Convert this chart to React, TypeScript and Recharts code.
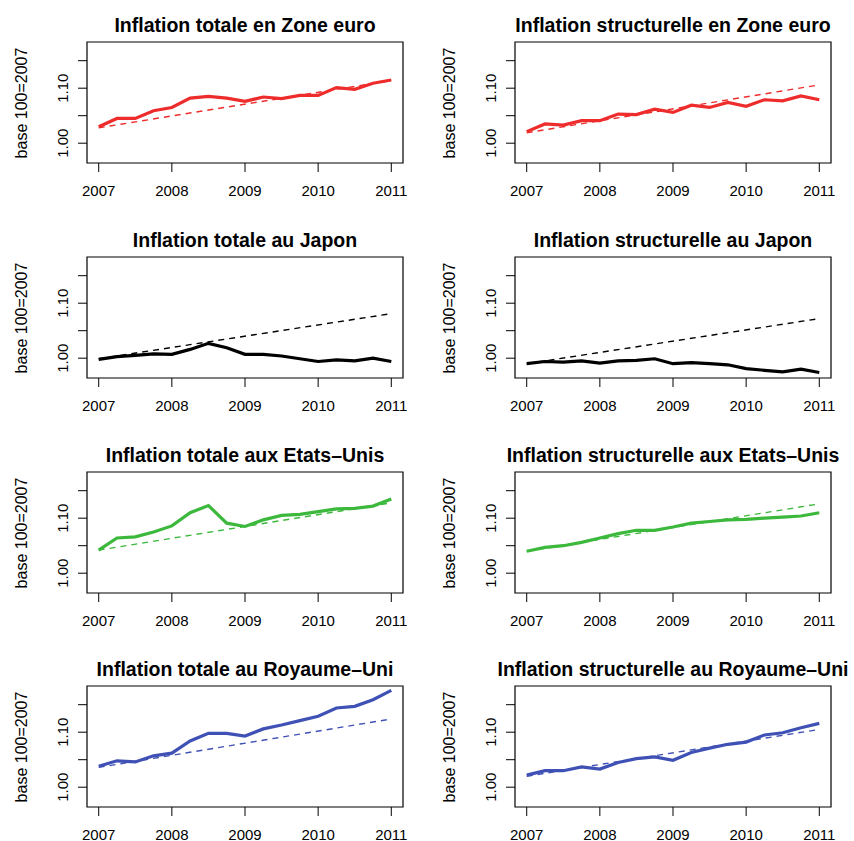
import { LineChart, Line, XAxis, YAxis, ReferenceArea } from "recharts";

// quarterly points, base 100 = 2007
const quarters = [
  2007, 2007.25, 2007.5, 2007.75, 2008, 2008.25, 2008.5, 2008.75, 2009,
  2009.25, 2009.5, 2009.75, 2010, 2010.25, 2010.5, 2010.75, 2011,
];
const yearTicks = [2007, 2008, 2009, 2010, 2011];
const valueTicks = [1.0, 1.05, 1.1, 1.15];
const labelledTicks = [1.0, 1.1];

const euroTotal = [1.030, 1.045, 1.045, 1.059, 1.065, 1.082, 1.085, 1.082, 1.076, 1.084, 1.081, 1.087, 1.087, 1.101, 1.098, 1.109, 1.115];
const euroTotalTrend = [1.028, 1.114];
const euroCore = [1.021, 1.035, 1.033, 1.041, 1.041, 1.053, 1.052, 1.062, 1.056, 1.069, 1.065, 1.074, 1.067, 1.079, 1.077, 1.086, 1.079];
const euroCoreTrend = [1.019, 1.106];

const japanTotal = [0.998, 1.003, 1.005, 1.008, 1.007, 1.016, 1.027, 1.019, 1.007, 1.007, 1.004, 0.999, 0.994, 0.997, 0.995, 1.0, 0.994];
const japanTotalTrend = [0.999, 1.081];
const japanCore = [0.990, 0.994, 0.993, 0.995, 0.991, 0.995, 0.996, 0.999, 0.990, 0.992, 0.990, 0.988, 0.981, 0.978, 0.975, 0.980, 0.974];
const japanCoreTrend = [0.990, 1.072];

const usTotal = [1.042, 1.064, 1.066, 1.075, 1.086, 1.110, 1.123, 1.091, 1.085, 1.097, 1.105, 1.107, 1.112, 1.117, 1.118, 1.122, 1.135];
const usTotalTrend = [1.042, 1.128];
const usCore = [1.040, 1.047, 1.050, 1.056, 1.064, 1.072, 1.078, 1.078, 1.084, 1.091, 1.094, 1.097, 1.098, 1.100, 1.102, 1.104, 1.110];
const usCoreTrend = [1.040, 1.126];

const ukTotal = [1.038, 1.048, 1.046, 1.057, 1.062, 1.084, 1.098, 1.098, 1.093, 1.106, 1.113, 1.121, 1.129, 1.144, 1.147, 1.159, 1.176];
const ukTotalTrend = [1.036, 1.124];
const ukCore = [1.022, 1.030, 1.030, 1.037, 1.033, 1.045, 1.052, 1.055, 1.049, 1.063, 1.071, 1.078, 1.082, 1.095, 1.099, 1.108, 1.116];
const ukCoreTrend = [1.020, 1.105];

const RED = "#EE2C2C";
const BLACK = "#000000";
const GREEN = "#3CB83C";
const BLUE = "#3F51B5";

const FONT = '"Liberation Sans", Arial, Helvetica, sans-serif';
const X_DOMAIN = [2006.84, 2011.16];
const Y_DOMAIN = [0.964, 1.184];

function YearTick({ x, y, payload }: any) {
  return (
    <text x={x} y={y} dy="0.71em" textAnchor="middle" fontSize={15} fontFamily={FONT} fill="#000">
      {payload?.value}
    </text>
  );
}

function RotTick({ x, y, payload }: any) {
  const v = payload?.value;
  if (!labelledTicks.some((t) => Math.abs(t - v) < 1e-6)) return null;
  return (
    <text
      x={x}
      y={y}
      transform={`rotate(-90, ${x}, ${y})`}
      textAnchor="middle"
      fontSize={15}
      fontFamily={FONT}
      fill="#000"
    >
      {Number(v).toFixed(2)}
    </text>
  );
}

function Panel({
  title,
  values,
  trend,
  color,
  left,
  top,
}: {
  title: string;
  values: number[];
  trend: number[];
  color: string;
  left: number;
  top: number;
}) {
  const last = quarters.length - 1;
  const rows = quarters.map((q, i) => ({
    x: q,
    v: values[i],
    t: i === 0 ? trend[0] : i === last ? trend[1] : null,
  }));

  return (
    <div style={{ position: "absolute", left, top, width: 428, height: 215 }}>
      <div
        style={{
          position: "absolute",
          left: 245,
          top: 13,
          transform: "translateX(-50%)",
          fontFamily: FONT,
          fontWeight: "bold",
          fontSize: 19.5,
          lineHeight: "24px",
          whiteSpace: "nowrap",
        }}
      >
        {title}
      </div>
      <div
        style={{
          position: "absolute",
          left: 22,
          top: 103,
          transform: "translate(-50%, -50%) rotate(-90deg)",
          fontFamily: FONT,
          fontSize: 16,
          whiteSpace: "nowrap",
        }}
      >
        base 100=2007
      </div>
      <LineChart
        width={428}
        height={215}
        data={rows}
        margin={{ top: 42, right: 25, bottom: 22, left: 27 }}
        style={{ position: "absolute", left: 0, top: 0 }}
      >
        <XAxis
          dataKey="x"
          type="number"
          domain={X_DOMAIN}
          ticks={yearTicks}
          allowDataOverflow
          axisLine={false}
          tickLine={{ stroke: "#000" }}
          tickSize={9}
          tickMargin={13}
          height={30}
          tick={<YearTick />}
        />
        <YAxis
          type="number"
          domain={Y_DOMAIN}
          ticks={valueTicks}
          allowDataOverflow
          axisLine={false}
          tickLine={{ stroke: "#000" }}
          tickSize={9}
          tickMargin={10}
          width={60}
          tick={<RotTick />}
        />
        <ReferenceArea
          x1={X_DOMAIN[0]}
          x2={X_DOMAIN[1]}
          y1={Y_DOMAIN[0]}
          y2={Y_DOMAIN[1]}
          fill="none"
          stroke="#000"
          strokeWidth={1.2}
          ifOverflow="visible"
        />
        <Line
          dataKey="t"
          stroke={color}
          strokeWidth={1.4}
          strokeDasharray="6 5"
          dot={false}
          connectNulls
          isAnimationActive={false}
        />
        <Line
          dataKey="v"
          stroke={color}
          strokeWidth={3.2}
          dot={false}
          isAnimationActive={false}
        />
      </LineChart>
    </div>
  );
}

export default function App() {
  return (
    <div style={{ position: "absolute", left: 0, top: 0, width: 854, height: 841, background: "#fff" }}>
      <Panel title="Inflation totale en Zone euro" values={euroTotal} trend={euroTotalTrend} color={RED} left={0} top={0} />
      <Panel title="Inflation structurelle en Zone euro" values={euroCore} trend={euroCoreTrend} color={RED} left={428} top={0} />
      <Panel title="Inflation totale au Japon" values={japanTotal} trend={japanTotalTrend} color={BLACK} left={0} top={215} />
      <Panel title="Inflation structurelle au Japon" values={japanCore} trend={japanCoreTrend} color={BLACK} left={428} top={215} />
      <Panel title="Inflation totale aux Etats–Unis" values={usTotal} trend={usTotalTrend} color={GREEN} left={0} top={430} />
      <Panel title="Inflation structurelle aux Etats–Unis" values={usCore} trend={usCoreTrend} color={GREEN} left={428} top={430} />
      <Panel title="Inflation totale au Royaume–Uni" values={ukTotal} trend={ukTotalTrend} color={BLUE} left={0} top={644} />
      <Panel title="Inflation structurelle au Royaume–Uni" values={ukCore} trend={ukCoreTrend} color={BLUE} left={428} top={644} />
    </div>
  );
}
